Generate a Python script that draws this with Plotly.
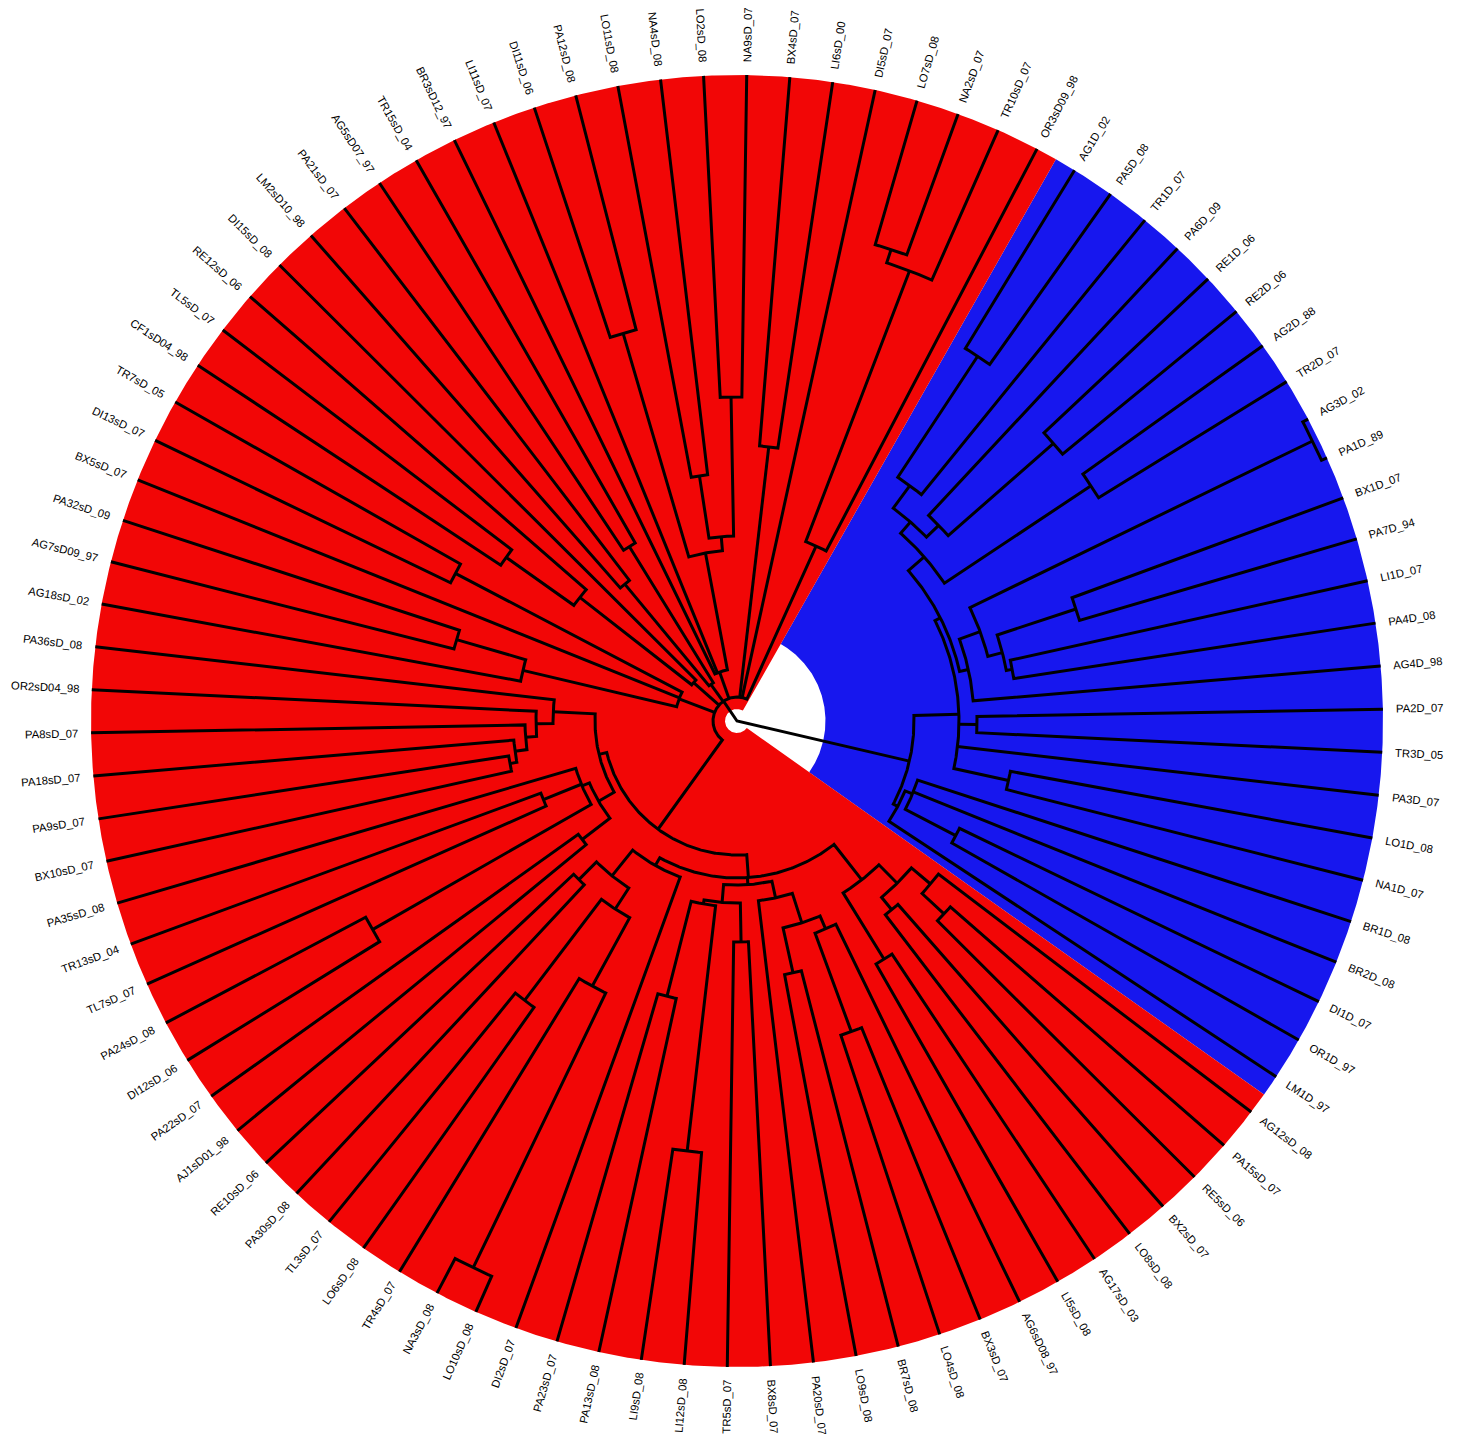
import math
import plotly.graph_objects as go

# ------------------------------------------------------------------ data
# Leaf order (clockwise, starting at the first blue tip)
BLUE_LEAVES = ["AG1D_02", "PA5D_08", "TR1D_07", "PA6D_09", "RE1D_06", "RE2D_06", "AG2D_88",
               "TR2D_07", "AG3D_02", "PA1D_89", "BX1D_07", "PA7D_94", "LI1D_07", "PA4D_08",
               "AG4D_98", "PA2D_07", "TR3D_05", "PA3D_07", "LO1D_08", "NA1D_07", "BR1D_08",
               "BR2D_08", "DI1D_07", "OR1D_97", "LM1D_97"]
RED_LEAVES = ["AG12sD_08", "PA15sD_07", "RE5sD_06", "BX2sD_07", "LO8sD_08", "AG17sD_03",
              "LI5sD_08", "AG6sD08_97", "BX3sD_07", "LO4sD_08", "BR7sD_08", "LO9sD_08",
              "PA20sD_07", "BX8sD_07", "TR5sD_07", "LI12sD_08", "LI9sD_08", "PA13sD_08",
              "PA23sD_07", "DI2sD_07", "LO10sD_08", "NA3sD_08", "TR4sD_07", "LO6sD_08",
              "TL3sD_07", "PA30sD_08", "RE10sD_06", "AJ1sD01_98", "PA22sD_07", "DI12sD_06",
              "PA24sD_08", "TL7sD_07", "TR13sD_04", "PA35sD_08", "BX10sD_07", "PA9sD_07",
              "PA18sD_07", "PA8sD_07", "OR2sD04_98", "PA36sD_08", "AG18sD_02", "AG7sD09_97",
              "PA32sD_09", "BX5sD_07", "DI13sD_07", "TR7sD_05", "CF1sD04_98", "TL5sD_07",
              "RE12sD_06", "DI15sD_08", "LM2sD10_98", "PA21sD_07", "AG5sD07_97", "TR15sD_04",
              "BR3sD12_97", "LI11sD_07", "DI11sD_06", "PA12sD_08", "LO11sD_08", "NA4sD_08",
              "LO2sD_08", "NA9sD_07", "BX4sD_07", "LI6sD_00", "DI5sD_07", "LO7sD_08",
              "NA2sD_07", "TR10sD_07", "OR3sD09_98"]

# Topology in Newick; the label after ")" is the depth of that node from the root
# (tips sit at depth 646).
BLUE_UPPER = ("(((((AG1D_02,PA5D_08)437,TR1D_07)292,(PA6D_09,(RE1D_06,RE2D_06)421)281)264,"
              "(AG2D_88,TR2D_07)425)249,(((AG3D_02,PA1D_89)640,((BX1D_07,PA7D_94)357,"
              "(LI1D_07,PA4D_08)280)274)259,AG4D_98)237)228")
BLUE_MID = "(" + BLUE_UPPER + ",(PA2D_07,TR3D_05)240,PA3D_07,(LO1D_08,NA1D_07)278)222"
BLUE_LOW = "((BR1D_08,BR2D_08,(DI1D_07,OR1D_97)247)190,LM1D_97)182"
BLUE_CLADE = "(" + BLUE_MID + "," + BLUE_LOW + ")177"

RED_BR_A = "(((AG12sD_08,(PA15sD_07,RE5sD_06)283)253,(BX2sD_07,LO8sD_08)244)228,(AG17sD_03,LI5sD_08)280)202"
RED_BR_B = ("((((AG6sD08_97,(BX3sD_07,LO4sD_08)331)226,(BR7sD_08,LO9sD_08)258)212,PA20sD_07)181,"
            "((BX8sD_07,TR5sD_07)221,((LI12sD_08,LI9sD_08)433,(PA13sD_08,PA23sD_07)284)186)182)164")
RED_BL = ("(DI2sD_07,((((LO10sD_08,NA3sD_08)607,TR4sD_07)302,(LO6sD_08,TL3sD_07)351)224,"
          "(PA30sD_08,RE10sD_06)224)199)166")
RED_LEFT = ("(((AJ1sD01_98,PA22sD_07)195,((DI12sD_06,PA24sD_08)420,(TL7sD_07,TR13sD_04)209,PA35sD_08)168)160,"
            "(((((BX10sD_07,PA9sD_07)231,PA18sD_07)224,PA8sD_07)212,OR2sD04_98)201,PA36sD_08)184)142")
RED_BOTTOM = "((" + RED_BR_A + "," + RED_BR_B + "," + RED_BL + ")157," + RED_LEFT + ")134"
RED_UL1 = "((AG18sD_02,(AG7sD09_97,PA32sD_09)292)220,BX5sD_07,(DI13sD_07,TR7sD_05)318)62"
RED_UL2 = "(((CF1sD04_98,TL5sD_07)283,RE12sD_06)200,DI15sD_08)58"
RED_UL3 = "((LM2sD10_98,PA21sD_07)177,(AG5sD07_97,TR15sD_04)205)45"
RED_TOP = ("(BR3sD12_97,LI11sD_07,((DI11sD_06,PA12sD_08)404,((LO11sD_08,NA4sD_08)248,"
           "(LO2sD_08,NA9sD_07)324)185)171)52")
RED_TR = "(((LO7sD_08,NA2sD_07)496,TR10sD_07)482,OR3sD09_98)192"
RED_CLADE = ("(" + RED_BOTTOM + "," + RED_UL1 + "," + RED_UL2 + "," + RED_UL3 + "," + RED_TOP +
             ",(BX4sD_07,LI6sD_00)276,DI5sD_07," + RED_TR + ")24")

TREE = "(" + BLUE_CLADE + "," + RED_CLADE + ")0"

# ------------------------------------------------------------------ geometry / style
W, H = 1466, 1437
CX, CY = 737, 721            # centre of the circle on the page
TIP_DEPTH = 646
FIRST_ANGLE = 31.5           # degrees clockwise from 12 o'clock for the first tip
N_TIPS = len(BLUE_LEAVES) + len(RED_LEAVES)
STEP = 360.0 / N_TIPS
LABEL_GAP = 13
FONT_SIZE = 11.3
RED = "#F20606"
BLUE = "#1717EE"
LINE_W = 3


def parse_newick(s):
    pos = 0

    def node():
        nonlocal pos
        if s[pos] == "(":
            pos += 1
            kids = [node()]
            while s[pos] == ",":
                pos += 1
                kids.append(node())
            assert s[pos] == ")"
            pos += 1
            st = pos
            while pos < len(s) and s[pos] not in ",)":
                pos += 1
            return {"children": kids, "depth": float(s[st:pos])}
        st = pos
        while pos < len(s) and s[pos] not in ",)":
            pos += 1
        return {"name": s[st:pos]}

    return node()


root = parse_newick(TREE)
leaf_seq = []


def layout(nd):
    if "name" in nd:
        nd["angle"] = FIRST_ANGLE + len(leaf_seq) * STEP
        nd["depth"] = TIP_DEPTH
        leaf_seq.append(nd)
    else:
        for c in nd["children"]:
            layout(c)
        nd["angle"] = sum(c["angle"] for c in nd["children"]) / len(nd["children"])


layout(root)
assert [l["name"] for l in leaf_seq] == BLUE_LEAVES + RED_LEAVES


def polar(r, a):
    t = math.radians(a)
    return r * math.sin(t), r * math.cos(t)


def arc(r, a0, a1, step=0.4):
    n = max(2, int(abs(a1 - a0) / step) + 1)
    return [polar(r, a0 + (a1 - a0) * i / (n - 1)) for i in range(n)]


xs, ys = [], []


def add_path(pts):
    for x, y in pts:
        xs.append(x)
        ys.append(y)
    xs.append(None)
    ys.append(None)


def draw(nd):
    if "children" not in nd:
        return
    ch = nd["children"]
    r = nd["depth"]
    f, l = ch[0], ch[-1]
    add_path([polar(f["depth"], f["angle"])] + arc(r, f["angle"], l["angle"]) +
             [polar(l["depth"], l["angle"])])
    for c in ch[1:-1]:
        add_path([polar(r, c["angle"]), polar(c["depth"], c["angle"])])
    for c in ch:
        draw(c)


draw(root)


def clade_leaves(nd):
    if "name" in nd:
        return [nd]
    out = []
    for c in nd["children"]:
        out += clade_leaves(c)
    return out


def wedge(nd):
    lv = clade_leaves(nd)
    a0 = lv[0]["angle"] - STEP / 2
    a1 = lv[-1]["angle"] + STEP / 2
    r_in = nd["depth"] / 2
    pts = arc(TIP_DEPTH, a0, a1, 0.2) + arc(r_in, a1, a0, 0.2)
    pts.append(pts[0])
    return [p[0] for p in pts], [p[1] for p in pts]


fig = go.Figure()
for clade, col in zip(root["children"], [BLUE, RED]):
    wx, wy = wedge(clade)
    fig.add_trace(go.Scatter(x=wx, y=wy, mode="lines", fill="toself", fillcolor=col,
                             line=dict(width=0, color=col), hoverinfo="skip"))

fig.add_trace(go.Scatter(x=xs, y=ys, mode="lines", line=dict(color="black", width=LINE_W),
                         hoverinfo="skip"))

# Arial / Liberation Sans advance widths (1/1000 em)
CW = {"A": 667, "B": 667, "C": 722, "D": 722, "E": 667, "F": 611, "G": 778, "H": 722, "I": 278,
      "J": 500, "K": 667, "L": 556, "M": 833, "N": 722, "O": 778, "P": 667, "R": 722, "S": 667,
      "T": 611, "X": 667, "s": 500, "_": 556}


def text_w(t):
    return sum(CW.get(ch, 556) for ch in t) * FONT_SIZE / 1000.0


annotations = []
for lf in leaf_seq:
    a = lf["angle"] % 360
    w = text_w(lf["name"])
    rc = TIP_DEPTH + LABEL_GAP + w / 2
    x, y = polar(rc, a)
    ang = a - 90 if a < 180 else a - 270
    annotations.append(dict(x=x, y=y, xref="x", yref="y", text=lf["name"], showarrow=False,
                            textangle=ang, xanchor="center", yanchor="middle",
                            font=dict(family="Liberation Sans, Arial, sans-serif",
                                      size=FONT_SIZE, color="black")))

fig.update_layout(
    width=W, height=H, margin=dict(l=0, r=0, t=0, b=0),
    paper_bgcolor="white", plot_bgcolor="white", showlegend=False,
    xaxis=dict(range=[-CX, W - CX], visible=False, fixedrange=True),
    yaxis=dict(range=[-(H - CY), CY], visible=False, fixedrange=True),
    annotations=annotations,
)

fig.write_html("out.html", config={"displayModeBar": False},
               post_script="document.body.style.margin='0';")
